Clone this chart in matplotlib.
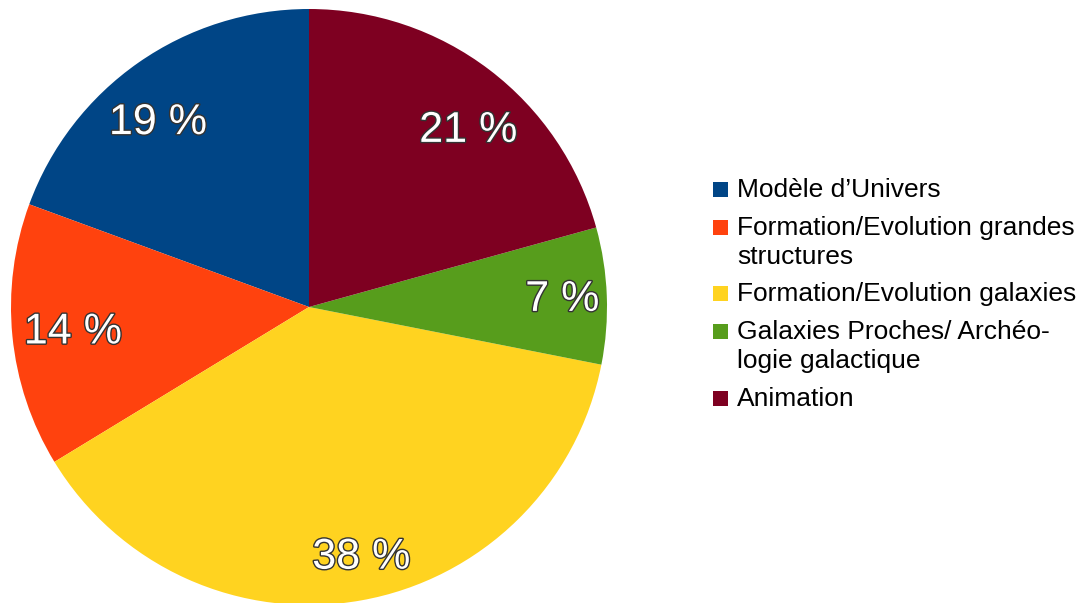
import matplotlib
matplotlib.use("Agg")
import matplotlib.pyplot as plt
import matplotlib.patheffects as pe
from matplotlib.patches import Rectangle

categories = ["Modèle d’Univers",
              "Formation/Evolution grandes\nstructures",
              "Formation/Evolution galaxies",
              "Galaxies Proches/ Archéo-\nlogie galactique",
              "Animation"]
values = [19.4, 14.3, 38.2, 7.4, 20.7]
colors = ["#004586", "#ff420e", "#ffd320", "#579d1c", "#7e0021"]

plt.rcParams['font.family'] = ['Liberation Sans', 'DejaVu Sans']

W, H = 1086, 603
fig = plt.figure(figsize=(W / 100, H / 100), dpi=100)
cx, cy, r = 309, 307, 298
ax = fig.add_axes([(cx - r) / W, (H - cy - r) / H, 2 * r / W, 2 * r / H])

wedges, texts, autotexts = ax.pie(
    values, colors=colors, startangle=90, counterclock=True,
    radius=1.0, autopct=lambda p: f"{p:.0f} %", pctdistance=0.81,
    wedgeprops=dict(linewidth=0), textprops=dict(color="white", fontsize=31))
ax.set_xlim(-1, 1)
ax.set_ylim(-1, 1)
ax.set_aspect("auto")
ax.axis("off")

# small label nudges (pixels: right, down) to mimic the original placement
label_nudge_px = [(-13, 14), (4, 2), (10, 13), (12, 2), (13, 16)]
for t, (dx, dy) in zip(autotexts, label_nudge_px):
    x, y = t.get_position()
    t.set_position((x + dx / r, y - dy / r))
    t.set_path_effects([pe.withStroke(linewidth=2, foreground="#333333")])

# legend (manual), baselines in pixels from top
sq = 15
x_sq = 713
x_txt = 737
first_baseline = [197, 235, 301, 339, 406]
line_step = 29
for lab, col, yb in zip(categories, colors, first_baseline):
    fig.patches.append(Rectangle((x_sq / W, (H - yb) / H), sq / W, sq / H,
                                 transform=fig.transFigure, facecolor=col,
                                 edgecolor="none"))
    for i, line in enumerate(lab.split("\n")):
        fig.text(x_txt / W, (H - yb - i * line_step) / H, line, fontsize=19,
                 va="baseline", ha="left", color="black",
                 transform=fig.transFigure)

fig.savefig("out.png", dpi=100)
